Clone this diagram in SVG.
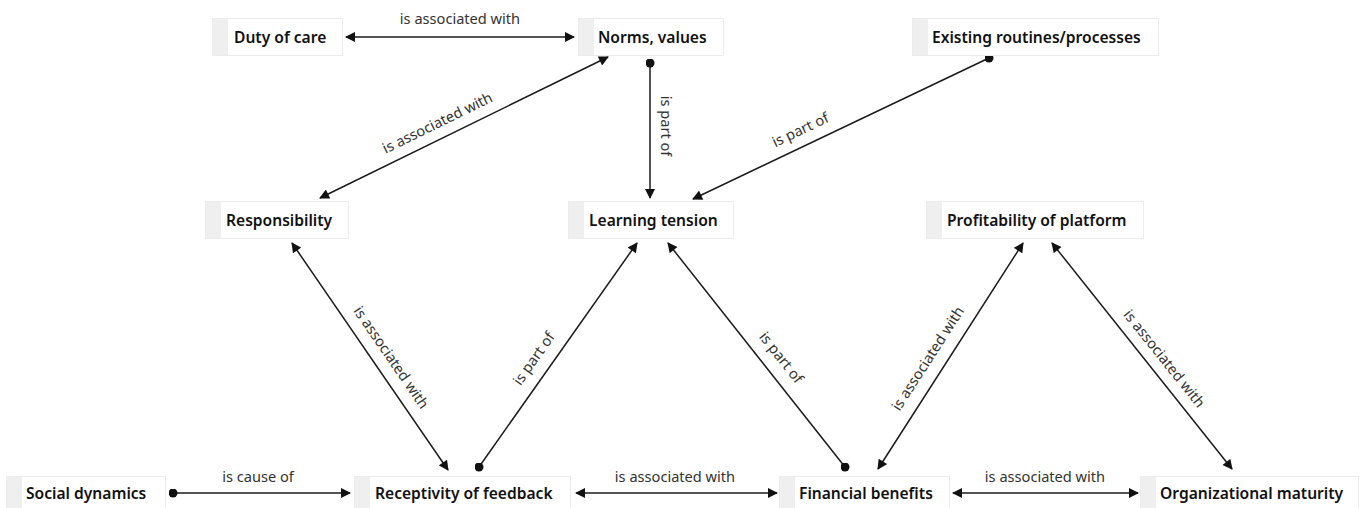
<svg xmlns="http://www.w3.org/2000/svg" width="1361" height="508" viewBox="0 0 1361 508">
  <style>
    .box { fill: #ffffff; stroke: #ececec; stroke-width: 1; }
    .strip { fill: #efefef; }
    .name { font-family: "Noto Sans", "Open Sans", sans-serif; font-weight: 600; font-size: 15.6px; fill: #111; }
    .edge { stroke: #1a1a1a; stroke-width: 1.5; fill: none; }
    .lbl { font-family: "Noto Sans", "Open Sans", sans-serif; font-size: 14.6px; fill: #333; text-anchor: middle; dominant-baseline: central; }
  </style>
  <defs>
    <marker id="arrow" viewBox="0 0 10 10" refX="9" refY="5" markerWidth="11" markerHeight="10" markerUnits="userSpaceOnUse" orient="auto-start-reverse">
      <path d="M0,0 L10,5 L0,10 z" fill="#111"/>
    </marker>
    <marker id="dot" viewBox="0 0 10 10" refX="5" refY="5" markerWidth="9" markerHeight="9" markerUnits="userSpaceOnUse">
      <circle cx="5" cy="5" r="5" fill="#111"/>
    </marker>
  </defs>

  <rect width="1361" height="508" fill="#ffffff"/>

  <!-- relations -->
  <g id="connectors">
    <line class="edge" x1="346" y1="37" x2="574" y2="37" marker-start="url(#arrow)" marker-end="url(#arrow)"/>
    <line class="edge" x1="650" y1="63" x2="650" y2="198" marker-start="url(#dot)" marker-end="url(#arrow)"/>
    <line class="edge" x1="989" y1="58" x2="693" y2="199" marker-start="url(#dot)" marker-end="url(#arrow)"/>
    <line class="edge" x1="320" y1="198" x2="608" y2="57" marker-start="url(#arrow)" marker-end="url(#arrow)"/>
    <line class="edge" x1="292" y1="243" x2="448" y2="470" marker-start="url(#arrow)" marker-end="url(#arrow)"/>
    <line class="edge" x1="479" y1="467" x2="637" y2="243" marker-start="url(#dot)" marker-end="url(#arrow)"/>
    <line class="edge" x1="845" y1="467" x2="668" y2="243" marker-start="url(#dot)" marker-end="url(#arrow)"/>
    <line class="edge" x1="878" y1="469" x2="1023" y2="243" marker-start="url(#arrow)" marker-end="url(#arrow)"/>
    <line class="edge" x1="1052" y1="243" x2="1232" y2="469" marker-start="url(#arrow)" marker-end="url(#arrow)"/>
    <line class="edge" x1="173" y1="493" x2="350" y2="493" marker-start="url(#dot)" marker-end="url(#arrow)"/>
    <line class="edge" x1="576" y1="493" x2="777" y2="493" marker-start="url(#arrow)" marker-end="url(#arrow)"/>
    <line class="edge" x1="953" y1="493" x2="1138" y2="493" marker-start="url(#arrow)" marker-end="url(#arrow)"/>

    <text class="lbl" x="460" y="18">is associated with</text>
    <text class="lbl" transform="translate(667,126) rotate(90)">is part of</text>
    <text class="lbl" transform="translate(800,129) rotate(-25.4)">is part of</text>
    <text class="lbl" transform="translate(437,122) rotate(-26.1)">is associated with</text>
    <text class="lbl" transform="translate(392,357) rotate(55.5)">is associated with</text>
    <text class="lbl" transform="translate(533,358) rotate(-54.9)">is part of</text>
    <text class="lbl" transform="translate(782,357) rotate(51.7)">is part of</text>
    <text class="lbl" transform="translate(927,358) rotate(-57.2)">is associated with</text>
    <text class="lbl" transform="translate(1165,358) rotate(51.3)">is associated with</text>
    <text class="lbl" x="258" y="476">is cause of</text>
    <text class="lbl" x="675" y="476">is associated with</text>
    <text class="lbl" x="1045" y="476">is associated with</text>
  </g>

  <!-- concepts -->
  <g id="duty-of-care">
    <rect class="box" x="212.5" y="18.5" width="130" height="37"/>
    <rect class="strip" x="213" y="19" width="15" height="36"/>
    <text class="name" x="234" y="42.5">Duty of care</text>
  </g>
  <g id="norms-values">
    <rect class="box" x="578.5" y="18.5" width="145" height="37"/>
    <rect class="strip" x="579" y="19" width="15" height="36"/>
    <text class="name" x="598" y="42.5">Norms, values</text>
  </g>
  <g id="existing-routines">
    <rect class="box" x="912.5" y="18.5" width="246" height="37"/>
    <rect class="strip" x="913" y="19" width="15" height="36"/>
    <text class="name" x="932" y="42.5">Existing routines/processes</text>
  </g>
  <g id="responsibility">
    <rect class="box" x="205.5" y="201.5" width="143" height="37"/>
    <rect class="strip" x="206" y="202" width="15" height="36"/>
    <text class="name" x="226" y="225.5">Responsibility</text>
  </g>
  <g id="learning-tension">
    <rect class="box" x="568.5" y="201.5" width="165" height="37"/>
    <rect class="strip" x="569" y="202" width="15" height="36"/>
    <text class="name" x="589" y="225.5">Learning tension</text>
  </g>
  <g id="profitability">
    <rect class="box" x="926.5" y="201.5" width="217" height="37"/>
    <rect class="strip" x="927" y="202" width="15" height="36"/>
    <text class="name" x="947" y="225.5">Profitability of platform</text>
  </g>
  <g id="social-dynamics">
    <rect class="box" x="6.5" y="476.5" width="159" height="37"/>
    <rect class="strip" x="7" y="477" width="15" height="36"/>
    <text class="name" x="26" y="498.5">Social dynamics</text>
  </g>
  <g id="receptivity">
    <rect class="box" x="354.5" y="476.5" width="216" height="37"/>
    <rect class="strip" x="355" y="477" width="15" height="36"/>
    <text class="name" x="375" y="498.5">Receptivity of feedback</text>
  </g>
  <g id="financial-benefits">
    <rect class="box" x="779.5" y="476.5" width="170" height="37"/>
    <rect class="strip" x="780" y="477" width="15" height="36"/>
    <text class="name" x="799" y="498.5">Financial benefits</text>
  </g>
  <g id="organizational-maturity">
    <rect class="box" x="1140.5" y="476.5" width="218" height="37"/>
    <rect class="strip" x="1141" y="477" width="15" height="36"/>
    <text class="name" x="1160" y="498.5">Organizational maturity</text>
  </g>
</svg>
